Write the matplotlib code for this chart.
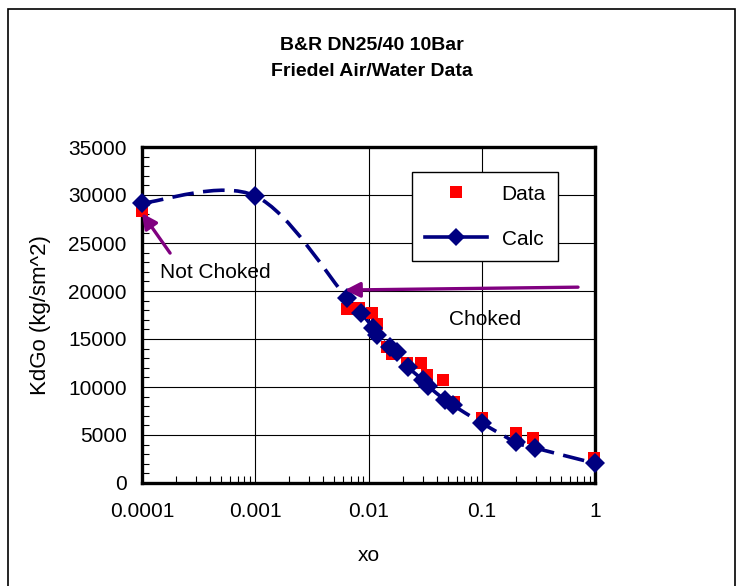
import matplotlib
matplotlib.use('Agg')
import matplotlib.pyplot as plt
import numpy as np
from matplotlib.path import Path
from matplotlib.patches import PathPatch, Rectangle
from matplotlib.lines import Line2D
from matplotlib.ticker import MultipleLocator, LogLocator, NullFormatter, FixedLocator, FixedFormatter

plt.rcParams['font.family'] = ['Liberation Sans', 'DejaVu Sans']

# measured data (red squares)
data_x = [0.0001, 0.00646, 0.00824, 0.0107, 0.0119, 0.0146, 0.0161, 0.0219, 0.0291, 0.0329,
          0.0455, 0.0569, 0.1, 0.2, 0.284, 0.97]
data_y = [28300, 18100, 18200, 17700, 16550, 14150, 13450, 12500, 12500, 11250,
          10700, 8450, 6750, 5200, 4700, 2600]

# calculated curve (navy diamonds)
calc_x = [0.0001, 0.001, 0.00646, 0.0086, 0.011, 0.0118, 0.0155, 0.0179, 0.0223, 0.0303,
          0.0335, 0.0474, 0.0557, 0.1, 0.2, 0.295, 1.0]
calc_y = [29150, 29900, 19250, 17700, 16150, 15400, 14150, 13650, 12100, 10700,
          10100, 8650, 8100, 6250, 4250, 3650, 2050]

xtick_vals = [0.0001, 0.001, 0.01, 0.1, 1]
xtick_labels = ['0.0001', '0.001', '0.01', '0.1', '1']

navy = '#000080'
purple = '#800080'

fig = plt.figure(figsize=(7.39, 5.86), dpi=100)
ax = fig.add_axes([142/739, 1-483/586, 453/739, 336/586])

# chart border
fig.patches.append(Rectangle((8/739, -0.05), 727/739, 1.05-9/586, transform=fig.transFigure,
                             fill=False, edgecolor='black', linewidth=1.2))

ax.set_xscale('log')
ax.set_xlim(0.0001, 1)
ax.set_ylim(0, 35000)

# excel style smoothed line (bezier through calc points in log-x space)
u = np.log10(calc_x)
v = np.array(calc_y, dtype=float)
pts = np.column_stack([u, v])
n = len(pts)
verts = [pts[0]]
codes = [Path.MOVETO]
for i in range(n - 1):
    p0 = pts[i - 1] if i > 0 else pts[i]
    p1 = pts[i]
    p2 = pts[i + 1]
    p3 = pts[i + 2] if i + 2 < n else pts[i + 1]
    c1 = p1 + (p2 - p0) / 6.0
    c2 = p2 - (p3 - p1) / 6.0
    verts += [c1, c2, p2]
    codes += [Path.CURVE4] * 3
verts = np.array(verts)
verts[:, 0] = 10 ** verts[:, 0]
curve = PathPatch(Path(verts, codes), fill=False, edgecolor=navy, linewidth=2.6,
                  linestyle=(0, (6, 2.6)), capstyle='butt', zorder=3)
ax.add_patch(curve)

ax.plot(data_x, data_y, 's', color='#ff0000', markersize=9, markeredgewidth=0,
        zorder=4, clip_on=False)
ax.plot(calc_x, calc_y, 'D', color=navy, markersize=10, markeredgewidth=0,
        zorder=5, clip_on=False)

# grid and axes
ax.grid(True, which='major', color='black', linewidth=0.8)
ax.set_axisbelow(True)
for s in ax.spines.values():
    s.set_linewidth(2.4)
ax.xaxis.set_major_locator(FixedLocator(xtick_vals))
ax.xaxis.set_major_formatter(FixedFormatter(xtick_labels))
ax.xaxis.set_minor_locator(LogLocator(base=10, subs=np.arange(2, 10)))
ax.xaxis.set_minor_formatter(NullFormatter())
ax.yaxis.set_major_locator(MultipleLocator(5000))
ax.yaxis.set_minor_locator(MultipleLocator(1000))
ax.tick_params(which='both', direction='in', top=False, right=False)
ax.tick_params(which='major', length=0, labelsize=15)
ax.tick_params(axis='y', which='major', pad=11)
ax.tick_params(axis='x', which='major', pad=14)
ax.tick_params(which='minor', length=5, width=0.8)

ax.set_xlabel('xo', fontsize=15, labelpad=18)
ax.set_ylabel('KdGo (kg/sm^2)', fontsize=16, labelpad=12)

fig.text(372/739, 1-45/586, 'B&R DN25/40 10Bar', ha='center', va='center',
         fontsize=14, fontweight='bold')
fig.text(372/739, 1-72/586, 'Friedel Air/Water Data', ha='center', va='center',
         fontsize=14, fontweight='bold')

# annotations
ax.annotate('', xy=(0.0001, 28100), xytext=(0.000177, 23950),
            arrowprops=dict(arrowstyle='-|>,head_length=0.9,head_width=0.45', color=purple,
                            lw=2.4, shrinkA=0, shrinkB=0), zorder=6)
ax.annotate('', xy=(0.0062, 20100), xytext=(0.708, 20400),
            arrowprops=dict(arrowstyle='-|>,head_length=0.9,head_width=0.45', color=purple,
                            lw=2.4, shrinkA=0, shrinkB=0), zorder=6)
ax.text(0.000144, 21950, 'Not Choked', fontsize=15, va='center', ha='left')
ax.text(0.0514, 16980, 'Choked', fontsize=15, va='center', ha='left')

handles = [Line2D([], [], linestyle='none', marker='s', color='#ff0000', markersize=9,
                  markeredgewidth=0),
           Line2D([], [], linestyle='-', linewidth=2.6, marker='D', color=navy, markersize=9,
                  markeredgewidth=0)]
leg = ax.legend(handles, ['Data', 'Calc'], loc='upper left',
                bbox_to_anchor=(412/739, 1-172/586), bbox_transform=fig.transFigure,
                borderaxespad=0, fontsize=15, frameon=True, fancybox=False,
                edgecolor='black', framealpha=1, handlelength=3.0, handletextpad=0.7,
                labelspacing=1.25, borderpad=0.6)
leg.get_frame().set_linewidth(1.0)
leg.set_zorder(10)

fig.savefig('out.png', dpi=100)
